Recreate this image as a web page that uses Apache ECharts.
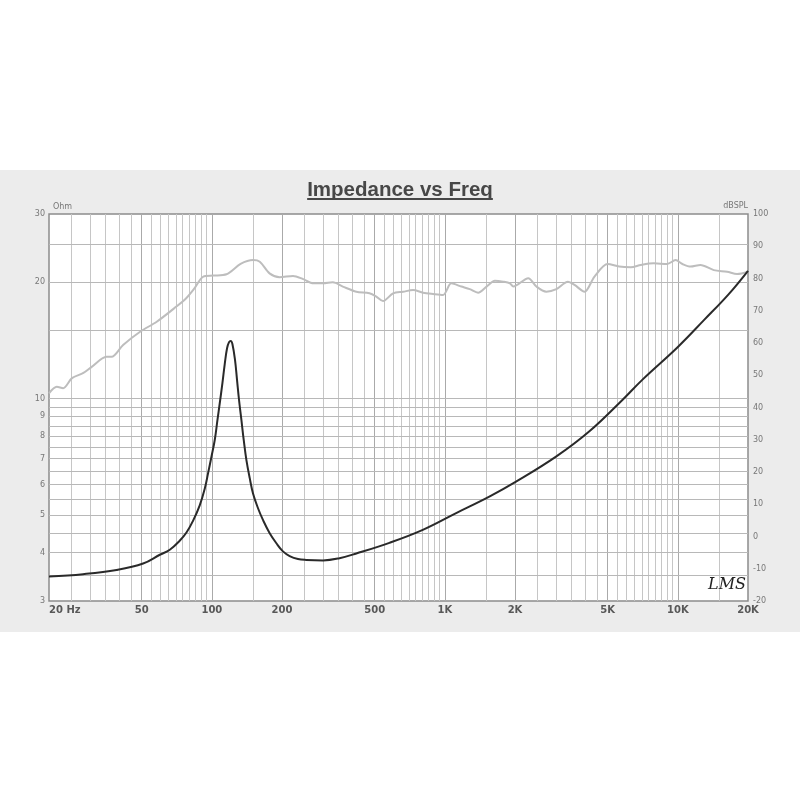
<!DOCTYPE html>
<html><head><meta charset="utf-8">
<script src="https://cdn.jsdelivr.net/npm/echarts@6/dist/echarts.min.js"></script>
<style>
html,body{margin:0;padding:0;background:#fff;}
#wrap{position:relative;width:800px;height:800px;}
#band{position:absolute;left:0;top:170px;width:800px;height:462px;background:#ececec;}
#chart{position:absolute;left:0;top:0;width:800px;height:800px;}
</style></head><body>
<div id="wrap"><div id="band"></div><div id="chart"></div></div>
<script>
// Impedance curve (Ohm) vs frequency (Hz)
const impFreq = [20, 28, 39, 50.7, 59.8, 66, 72.9, 77.8, 83.1, 88.7, 93.2, 96.3, 99.6, 102.9, 105.7, 108.1, 111, 113.6, 116.2, 118.5, 120.5, 122.5, 125.7, 128.2, 130.8, 133.9, 137, 140.7, 145.4, 150.2, 157.8, 165.7, 177.1, 189.2, 201.9, 215.7, 234.2, 254.4, 300, 353, 417, 578, 804, 1118, 1552, 2020, 3000, 4160, 5780, 7050, 10000, 13000, 16500, 20000];
const impOhm  = [3.47, 3.52, 3.61, 3.75, 3.95, 4.07, 4.30, 4.51, 4.84, 5.30, 5.85, 6.41, 7.08, 7.82, 8.81, 9.73, 10.96, 12.3, 13.5, 14.0, 14.1, 13.85, 12.6, 11.2, 9.92, 8.81, 7.82, 6.94, 6.23, 5.69, 5.21, 4.86, 4.49, 4.23, 4.03, 3.92, 3.85, 3.83, 3.82, 3.87, 3.98, 4.24, 4.58, 5.06, 5.58, 6.10, 7.08, 8.22, 9.92, 11.2, 13.6, 16.0, 18.6, 21.4];
// SPL curve (dB SPL) vs frequency (Hz)
const splFreq = [20, 21.6, 23, 25.1, 28.1, 30.5, 35.3, 37.1, 41.6, 49.2, 58, 70.4, 77.6, 84.3, 91.9, 101.3, 115.6, 132.8, 150.3, 160.6, 176.8, 195.4, 223, 246.6, 272.5, 300, 330.6, 364.8, 416.8, 474.6, 507.7, 542.6, 599.5, 661.8, 730.5, 806.2, 889.9, 982.2, 1066, 1177, 1279, 1389, 1510, 1640, 1781, 1903, 1966, 2280, 2471, 2727, 3010, 3374, 3601, 3976, 4387, 4997, 5600, 6283, 6935, 7885, 9000, 9777, 10460, 11340, 12500, 14260, 16270, 17950, 20000];
const splDb   = [44.4, 46.4, 46.0, 49.1, 50.7, 52.6, 55.7, 55.7, 59.4, 63.5, 66.6, 71.3, 73.9, 77.0, 80.6, 80.9, 81.3, 84.5, 85.7, 85.2, 81.6, 80.4, 80.8, 79.8, 78.5, 78.5, 78.8, 77.5, 75.9, 75.4, 74.4, 73.0, 75.4, 75.9, 76.4, 75.6, 75.2, 74.9, 78.5, 77.5, 76.7, 75.6, 77.5, 79.3, 79.0, 78.5, 77.5, 80.1, 77.5, 75.9, 76.7, 79.0, 78.0, 75.9, 80.6, 84.5, 83.7, 83.5, 84.2, 84.7, 84.5, 85.7, 84.5, 83.7, 84.2, 82.6, 82.1, 81.4, 82.1];

// Tick labels
const xLabelValues = [20, 50, 100, 200, 500, 1000, 2000, 5000, 10000, 20000];
const xLabelText   = ['20 Hz', '50', '100', '200', '500', '1K', '2K', '5K', '10K', '20K'];
const ohmLabelValues = [3, 4, 5, 6, 7, 8, 9, 10, 20, 30];

// Grid lines
const xGrid = [25, 30, 35, 40, 45, 50, 55, 60, 65, 70, 75, 80, 85, 90, 95, 100, 150, 200, 250, 300, 350, 400, 450, 500, 550, 600, 650, 700, 750, 800, 850, 900, 950, 1000, 1500, 2000, 2500, 3000, 3500, 4000, 4500, 5000, 5500, 6000, 6500, 7000, 7500, 8000, 8500, 9000, 9500, 10000, 15000];
const xGridMajor = [50, 100, 200, 500, 1000, 2000, 5000, 10000];
const ohmGrid = [3.5, 4, 4.5, 5, 5.5, 6, 6.5, 7, 7.5, 8, 8.5, 9, 9.5, 10, 15, 20, 25];

const chart = echarts.init(document.getElementById('chart'), null, {renderer: 'canvas'});

const titleText = 'Impedance vs Freq';
const titleFont = 'bold 20.5px "Liberation Sans", Arial, sans-serif';
const cv = document.createElement('canvas').getContext('2d');
cv.font = titleFont;
const tw = cv.measureText(titleText).width;

const gridLines = xGrid.map(v => ({xAxis: v, lineStyle: {color: xGridMajor.includes(v) ? '#aaaaaa' : '#c6c6c6'}}))
  .concat(ohmGrid.map(v => ({yAxis: v, lineStyle: {color: '#b8b8b8'}})));

const option = {
  backgroundColor: 'transparent',
  animation: false,
  title: {
    text: titleText, left: 'center', top: 175,
    textStyle: {fontSize: 20.5, fontWeight: 'bold', color: '#474747', fontFamily: '"Liberation Sans", Arial, sans-serif'}
  },
  grid: {
    left: 49, right: 52, top: 214, bottom: 199,
    show: true, backgroundColor: '#ffffff', borderColor: '#8c8c8c', borderWidth: 1.5
  },
  xAxis: {
    type: 'log', logBase: 10, min: 20, max: 20000,
    axisLine: {show: false}, axisTick: {show: false}, splitLine: {show: false},
    axisLabel: {
      customValues: xLabelValues,
      formatter: v => { const i = xLabelValues.indexOf(Math.round(v)); return i >= 0 ? xLabelText[i] : ''; },
      fontSize: 10, fontWeight: 'bold', color: '#585858', margin: 4,
      fontFamily: '"DejaVu Sans", sans-serif',
      alignMinLabel: 'left'
    }
  },
  yAxis: [
    {
      type: 'log', logBase: 10, min: 3, max: 30,
      axisLine: {show: false}, axisTick: {show: false}, splitLine: {show: false},
      axisLabel: {customValues: ohmLabelValues, fontSize: 8, color: '#777', margin: 4, fontFamily: '"DejaVu Sans", sans-serif'},
      name: 'Ohm', nameLocation: 'end', nameGap: 3,
      nameTextStyle: {align: 'left', fontSize: 8, color: '#777', padding: [0, 0, 0, 4], fontFamily: '"DejaVu Sans", sans-serif'}
    },
    {
      type: 'value', min: -20, max: 100, interval: 10, position: 'right',
      axisLine: {show: false}, axisTick: {show: false}, splitLine: {show: false},
      axisLabel: {fontSize: 8, color: '#777', margin: 5, fontFamily: '"DejaVu Sans", sans-serif'},
      name: 'dBSPL', nameLocation: 'end', nameGap: 3,
      nameTextStyle: {align: 'right', fontSize: 8, color: '#777', fontFamily: '"DejaVu Sans", sans-serif'}
    }
  ],
  series: [
    {
      name: 'SPL', type: 'line', yAxisIndex: 1, z: 3,
      data: splFreq.map((f, i) => [f, splDb[i]]),
      showSymbol: false, symbol: 'none', smooth: 0.3,
      lineStyle: {color: '#bdbdbd', width: 2},
      silent: true
    },
    {
      name: 'Impedance', type: 'line', yAxisIndex: 0, z: 4,
      data: impFreq.map((f, i) => [f, impOhm[i]]),
      showSymbol: false, symbol: 'none', smooth: 0.4,
      lineStyle: {color: '#2a2a2a', width: 2},
      silent: true,
      markLine: {
        silent: true, z: 1, symbol: ['none', 'none'], animation: false,
        label: {show: false}, emphasis: {disabled: true},
        lineStyle: {type: 'solid', width: 1},
        data: gridLines
      }
    }
  ],
  graphic: [
    {type: 'line', shape: {x1: 400 - tw / 2, y1: 199, x2: 400 + tw / 2, y2: 199}, style: {stroke: '#474747', lineWidth: 2}, z: 10},
    {type: 'text', left: 708, top: 577, style: {text: 'LMS', font: 'italic 16px "DejaVu Serif", serif', fill: '#222'}, z: 10}
  ]
};
chart.setOption(option);
</script>
</body></html>
